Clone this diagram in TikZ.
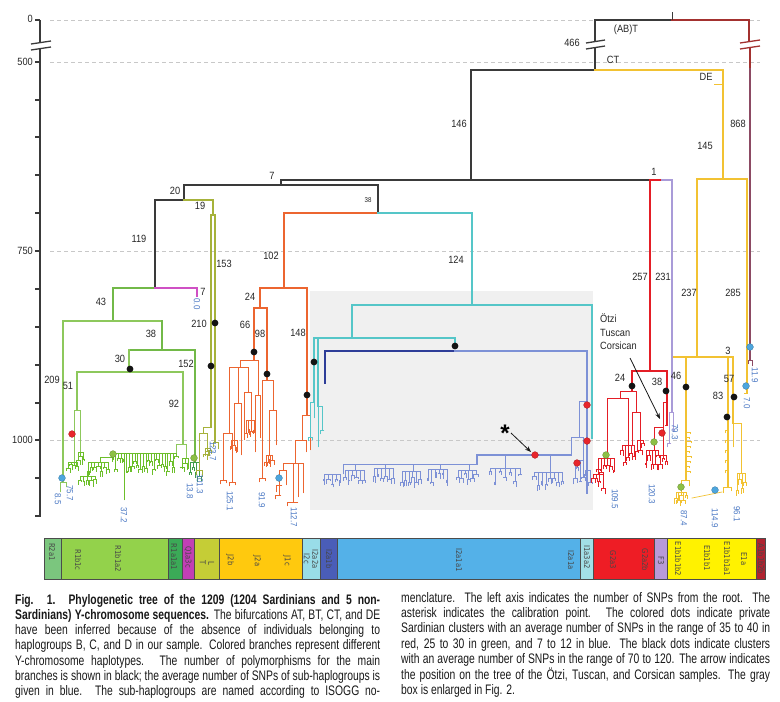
\documentclass[tikz,border=0pt]{standalone}
\usepackage{fontspec}
\setmainfont{Liberation Sans}
\newfontfamily\lblfont[FakeStretch=0.88]{Liberation Sans}
\newfontfamily\capfont[FakeStretch=0.75]{Liberation Sans}
\newfontfamily\barfont[FakeStretch=0.85]{DejaVu Sans}
\usetikzlibrary{arrows.meta}
\definecolor{cK}{HTML}{3A3A3A}
\definecolor{cAr}{HTML}{A3312F}
\definecolor{cAp}{HTML}{8C4A63}
\definecolor{cY}{HTML}{F2C232}
\definecolor{cGl}{HTML}{8DC85C}
\definecolor{cG}{HTML}{72B948}
\definecolor{cGb}{HTML}{6CBF2A}
\definecolor{cGd}{HTML}{3F9E4B}
\definecolor{cM}{HTML}{CF50C4}
\definecolor{cO}{HTML}{A6B23A}
\definecolor{cOr}{HTML}{EC6530}
\definecolor{cC}{HTML}{55C6C8}
\definecolor{cDB}{HTML}{2E3D98}
\definecolor{cLB}{HTML}{7D91D6}
\definecolor{cR}{HTML}{E41E26}
\definecolor{cF}{HTML}{A99BD8}
\definecolor{cBl}{HTML}{4A78C4}
\definecolor{dR}{HTML}{E8252B}
\definecolor{dG}{HTML}{8DC045}
\definecolor{dB}{HTML}{4DA6DE}
\definecolor{gbox}{HTML}{F0F0F0}
\definecolor{gdash}{HTML}{C8C8C8}
\definecolor{bR2}{HTML}{7BC67E}
\definecolor{bR1b}{HTML}{93D24B}
\definecolor{bR1a}{HTML}{3BAA57}
\definecolor{bQ}{HTML}{C23FB5}
\definecolor{bLT}{HTML}{C5CD36}
\definecolor{bJ}{HTML}{FFC90E}
\definecolor{bI2c}{HTML}{99DDE8}
\definecolor{bI2b}{HTML}{4A5DB8}
\definecolor{bI2a}{HTML}{54B1E8}
\definecolor{bI1}{HTML}{A2DFE6}
\definecolor{bG}{HTML}{EE1D25}
\definecolor{bF}{HTML}{B89AD8}
\definecolor{bE}{HTML}{FFF200}
\definecolor{bA}{HTML}{B02330}
\tikzset{
 br/.style={line width=1.2pt, line cap=rect},
 lf/.style={line width=0.7pt, line cap=rect},
 lbl/.style={font=\lblfont\fontsize{10.5}{12}\selectfont, text=black!85, inner sep=0pt},
 blbl/.style={font=\lblfont\fontsize{9}{10}\selectfont, text=cBl, rotate=-90, inner sep=0pt},
 barl/.style={font=\barfont\fontsize{8}{8.6}\selectfont, text=black!72, rotate=-90, inner sep=0pt, align=center},
 seg/.style={draw=black!70, line width=0.5pt},
 dotb/.style={circle, inner sep=0pt, minimum size=6.8pt},
 kdot/.style={dotb, fill=black!92},
 rdot/.style={dotb, fill=dR, draw=dR!70!black, line width=0.3pt},
 gdot/.style={dotb, fill=dG, draw=dG!70!black, line width=0.3pt},
 bdot/.style={dotb, fill=dB, draw=dB!70!black, line width=0.3pt},
 capl/.style={anchor=base west, inner sep=0pt, text=black!90, font=\capfont\fontsize{13.8}{15}\selectfont}
}
\newcommand{\leafbush}[7]{%
  \draw[lf,#1] (#2,#4) -- (#3,#4);
  \foreach \i in {0,...,#5}{%
    \pgfmathsetmacro{\bx}{#2+(#3-#2)*\i/#5}%
    \pgfmathsetmacro{\bl}{#6+rnd*(#7-#6)}%
    \pgfmathsetmacro{\bw}{0.6+rnd*1.6}%
    \pgfmathsetmacro{\ba}{1+rnd*5}%
    \pgfmathsetmacro{\bb}{1+rnd*5}%
    \draw[lf,#1] (\bx,#4) -- (\bx,#4+\bl) (\bx-\bw,#4+\bl) -- (\bx+\bw,#4+\bl) (\bx-\bw,#4+\bl) -- ++(0,\ba) (\bx+\bw,#4+\bl) -- ++(0,\bb);
  }%
}
\begin{document}
\begin{tikzpicture}[x=1pt,y=-1pt]
\useasboundingbox (0,0) rectangle (780,702);
\fill[white] (0,0) rectangle (780,702);
\pgfmathsetseed{11}
% gray box
\fill[gbox] (310,291) rectangle (593,510);
% dashed guide lines
\foreach \yy in {20,62,251,440} \draw[gdash, line width=0.6pt, dash pattern=on 4pt off 3pt] (50,\yy) -- (760,\yy);
% axis
\draw[line width=1.2pt,cK] (40,20) -- (40,42.6);
\draw[line width=1.2pt,cK] (40,48.6) -- (40,517);
\foreach \yy in {20,62,100,137,175,213,251,289,327,365,403,440,478,516} \draw[line width=1.1pt,cK] (35,\yy) -- (40,\yy);
\draw[cK,line width=1.3pt] (31,44) -- (51,41);
\draw[cK,line width=1.3pt] (31,50) -- (51,47);
\node[lbl,anchor=east] (ax0) at (33,19) {0};
\node[lbl,anchor=east] (ax500) at (33,62) {500};
\node[lbl,anchor=east] (ax750) at (33,251) {750};
\node[lbl,anchor=east] (ax1000) at (33,440) {1000};
% root
\draw[br,cK] (595,20) -- (672,20);
\draw[br,cAr] (672,20) -- (749,20);
\draw[cK,line width=1pt] (672,12) -- (672,20);
\draw[line width=1.2pt,cK] (595,20) -- (595,41.6);
\draw[line width=1.2pt,cK] (595,47.6) -- (595,70);
\draw[cK,line width=1.3pt] (586,43) -- (605,40);
\draw[cK,line width=1.3pt] (586,49) -- (605,46);
\draw[line width=1.2pt,cAr] (749,20) -- (749,41.6);
\draw[line width=1.2pt,cAr] (750,47.6) -- (750,68);
\draw[line width=1.2pt,cAp] (750,68) -- (750,360);
\draw[cAr,line width=1.3pt] (740,43) -- (760,40);
\draw[cAr,line width=1.3pt] (740,49) -- (760,46);
\draw[lf,cAp] (748,360) -- (752,360) (748,360) -- (748,364) (752,360) -- (752,366);
% CT / DE
\draw[br,cK] (471,70) -- (595,70);
\draw[br,cY] (595,70) -- (723,70);
\draw[br,cY] (723,70) -- (723,179);
\draw[lf,cY] (714,84) -- (723,84);
\draw[br,cY] (697,179) -- (747,179);
\draw[br,cY] (697,179) -- (697,357);
\draw[br,cY] (747,179) -- (747,393);
\draw[lf,cY] (744,393) -- (747,393);
\draw[br,cK] (471,70) -- (471,180);
\draw[br,cK] (281,180) -- (650,180);
\draw[br,cR] (650,180) -- (662,180);
\draw[br,cF] (662,180) -- (672,180);
\draw[br,cR] (650,180) -- (650,371);
\draw[br,cF] (672,180) -- (672,412);
% left part
\draw[br,cK] (281,180) -- (281,185);
\draw[br,cK] (184,185) -- (378,185);
\draw[br,cK] (378,185) -- (378,213);
\draw[br,cOr] (284,213) -- (378,213);
\draw[br,cC] (378,213) -- (472,213);
\draw[br,cK] (184,185) -- (184,200);
\draw[br,cK] (155,200) -- (184,200);
\draw[br,cO] (184,200) -- (213,200);
\draw[br,cO] (213,200) -- (213,215);
\draw[br,cO] (211,215) -- (215,215);
\draw[br,cO] (211,215) -- (211,427);
\draw[br,cO] (215,215) -- (215,442);
\draw[br,cK] (155,200) -- (155,288);
\draw[br,cG] (113,288) -- (155,288);
\draw[br,cM] (155,288) -- (197,288);
\draw[br,cM] (197,288) -- (197,296);
\draw[br,cG] (113,288) -- (113,321);
\draw[br,cGl] (63,321) -- (162,321);
\draw[br,cGl] (63,321) -- (63,482);
\draw[br,cG] (162,321) -- (162,350);
\draw[br,cG] (129,350) -- (195,350);
\draw[br,cG] (195,350) -- (195,462);
\draw[br,cGl] (129,350) -- (129,372);
\draw[br,cGl] (77,372) -- (183,372);
\draw[br,cGl] (77,372) -- (77,410);
\draw[br,cGl] (183,372) -- (183,444);
% R leaves
\draw[lf,cGl] (60,482) -- (66,482) (60,482) -- (60,492) (66,482) -- (66,487);
\draw[lf,cGl] (74,410) -- (80,410) (74,410) -- (74,462) (80,410) -- (80,452);
\leafbush{cGb}{68}{77}{462}{3}{2}{8}
\leafbush{cGb}{78}{83}{452}{2}{3}{10}
\draw[lf,cGl] (176,444) -- (186,444) (176,444) -- (176,453) (186,444) -- (186,458);
\leafbush{cGb}{113}{176}{453}{23}{3}{20}
\leafbush{cGb}{182}{188}{458}{2}{3}{10}
\draw[lf,cGb] (124,453) -- (124,500);
\draw[lf,cGb] (100,457) -- (113,457) (100,457) -- (100,462);
\leafbush{cGb}{88}{108}{462}{6}{3}{14}
\draw[lf,cGb] (88,462) -- (88,476);
\leafbush{cGb}{80}{95}{476}{4}{2}{6}
\leafbush{cGd}{190}{199}{462}{3}{4}{18}
% olive leaves
\draw[lf,cO] (203,427) -- (211,427) (203,427) -- (203,433) (199,433) -- (207,433) (199,433) -- (199,470) (207,433) -- (207,448) (196,470) -- (202,470) (196,470) -- (196,475) (202,470) -- (202,477);
\leafbush{cO}{205}{210}{448}{2}{2}{7}
\draw[lf,cO] (213,442) -- (218,442) (213,442) -- (213,447) (218,442) -- (218,449);
% orange J
\draw[br,cOr] (284,213) -- (284,288);
\draw[br,cOr] (260,288) -- (307,288);
\draw[br,cOr] (260,288) -- (260,308);
\draw[br,cOr] (254,308) -- (267,308);
\draw[br,cOr] (254,308) -- (254,360);
\draw[br,cOr] (267,308) -- (267,380);
\draw[br,cOr] (307,288) -- (307,415);
\draw[lf,cOr] (240,360) -- (258,360) (240,360) -- (240,367) (229,367) -- (248,367) (229,367) -- (229,433) (223,433) -- (232,433) (223,433) -- (223,480) (232,433) -- (232,482) (220,480) -- (226,480) (220,480) -- (220,484) (226,480) -- (226,483) (229,482) -- (235,482) (229,482) -- (229,486) (235,482) -- (235,485);
\draw[lf,cOr] (238,367) -- (238,403) (234,403) -- (241,403) (234,403) -- (234,440) (241,403) -- (241,455);
\draw[lf,cOr] (248,367) -- (248,392) (244,392) -- (251,392) (244,392) -- (244,440) (251,392) -- (251,420);
\leafbush{cOr}{246}{254}{420}{3}{4}{14}
\draw[lf,cOr] (258,360) -- (258,395) (255,395) -- (260,395) (255,395) -- (255,452) (260,395) -- (260,438);
\draw[lf,cOr] (262,380) -- (273,380) (262,380) -- (262,478) (273,380) -- (273,410) (269,410) -- (276,410) (269,410) -- (269,455) (276,410) -- (276,445);
\leafbush{cOr}{266}{272}{455}{3}{3}{10}
\leafbush{cOr}{231}{237}{440}{2}{3}{12}
\draw[lf,cOr] (259,478) -- (265,478) (259,478) -- (259,482) (265,478) -- (265,481);
\draw[lf,cOr] (302,415) -- (310,415) (310,415) -- (310,450) (302,415) -- (302,440) (295,440) -- (306,440) (306,440) -- (306,452) (295,440) -- (295,463) (283,463) -- (303,463) (293,463) -- (293,502) (298,463) -- (298,497) (303,463) -- (303,493) (287,502) -- (298,502) (287,502) -- (287,506) (283,463) -- (283,470) (279,470) -- (286,470) (279,470) -- (279,495) (286,470) -- (286,485) (276,485) -- (282,485) (276,485) -- (276,492) (275,495) -- (281,495) (275,495) -- (275,499);
% cyan / blue I
\draw[br,cC] (472,213) -- (472,305);
\draw[br,cC] (352,305) -- (592,305);
\draw[br,cC] (592,305) -- (592,438);
\draw[br,cC] (352,305) -- (352,338);
\draw[br,cC] (314,338) -- (455,338);
\draw[br,cC] (455,338) -- (455,345);
\draw[br,cC] (314,338) -- (314,402);
\draw[br,cC] (318,338) -- (318,406);
\draw[lf,cC] (310,402) -- (314,402) (310,402) -- (310,437) (314,402) -- (314,418) (308,437) -- (312,437) (308,437) -- (308,441) (312,437) -- (312,440);
\draw[lf,cC] (318,406) -- (322,406) (318,406) -- (318,447) (322,406) -- (322,430) (320,430) -- (324,430) (320,430) -- (320,434);
\draw[br,cDB] (325,351) -- (455,351);
\draw[br,cDB] (325,351) -- (325,383);
\draw[br,cLB] (455,351) -- (587,351);
\draw[br,cLB] (587,351) -- (587,493);
\draw[lf,cLB] (579,401) -- (587,401) (579,401) -- (579,437) (571,437) -- (583,437) (583,437) -- (583,460) (571,437) -- (571,455);
\leafbush{cLB}{575}{583}{460}{3}{4}{22}
\draw[br,cLB] (477,455) -- (571,455);
\draw[lf,cLB] (550,455) -- (550,472);
\leafbush{cLB}{534}{562}{472}{7}{3}{14}
\draw[lf,cLB] (505,455) -- (505,468);
\leafbush{cLB}{490}{520}{468}{6}{3}{14}
\draw[br,cLB] (477,455) -- (477,464);
\draw[lf,cLB] (343,464) -- (477,464);
\draw[lf,cLB] (469,464) -- (469,470);
\leafbush{cLB}{458}{476}{470}{5}{3}{12}
\draw[lf,cLB] (440,464) -- (440,469);
\leafbush{cLB}{428}{447}{469}{5}{3}{13}
\draw[lf,cLB] (413,464) -- (413,471);
\leafbush{cLB}{402}{420}{471}{5}{3}{12}
\draw[lf,cLB] (385,464) -- (385,468);
\leafbush{cLB}{374}{393}{468}{5}{3}{13}
\draw[lf,cLB] (355,464) -- (355,470);
\leafbush{cLB}{345}{364}{470}{5}{3}{12}
\draw[lf,cLB] (343,464) -- (343,474);
\leafbush{cLB}{324}{340}{474}{4}{3}{10}
\leafbush{cLB}{585}{590}{470}{2}{4}{16}
% red G
\draw[br,cR] (632,371) -- (667,371);
\draw[br,cR] (632,371) -- (632,391);
\draw[br,cR] (667,371) -- (667,425);
\draw[lf,cR] (620,391) -- (636,391) (620,391) -- (620,398) (607,398) -- (628,398) (607,398) -- (607,458) (628,398) -- (628,445) (636,391) -- (636,412) (632,412) -- (640,412) (632,412) -- (632,445) (640,412) -- (640,440);
\leafbush{cR}{598}{614}{458}{5}{3}{20}
\leafbush{cR}{622}{634}{445}{4}{3}{18}
\leafbush{cR}{637}{643}{440}{2}{3}{12}
\draw[lf,cR] (598,458) -- (598,474);
\leafbush{cR}{593}{603}{474}{3}{3}{15}
\draw[lf,cR] (663,402) -- (667,402) (663,402) -- (663,455) (654,427) -- (663,427) (654,427) -- (654,450) (665,425) -- (668,425);
\leafbush{cR}{646}{658}{450}{4}{3}{18}
\leafbush{cR}{660}{666}{455}{2}{3}{12}
% purple F
\draw[lf,cF] (669,412) -- (673,412) (669,412) -- (669,443) (673,412) -- (673,432) (667,443) -- (671,443) (667,443) -- (667,447);
% yellow E
\draw[br,cY] (674,357) -- (733,357);
\draw[br,cY] (686,357) -- (686,480);
\foreach \yy/\ll in {432/4,437/3,441/5,446/4,451/3,456/5,461/4,466/3,471/4} \draw[lf,cY] (686,\yy) -- (686+\ll,\yy) -- ++(0,2);
\draw[lf,cY] (681,480) -- (689,480) (681,480) -- (681,492) (689,480) -- (689,486);
\leafbush{cY}{676}{686}{492}{4}{2}{10}
\draw[lf,cY] (692,498) -- (722,492);
\draw[br,cY] (728,357) -- (728,487);
\foreach \yy in {430,440,450,460,470} \draw[lf,cY] (728,\yy) -- (725,\yy) -- ++(0,3);
\draw[lf,cY] (723,487) -- (731,487) (723,487) -- (723,493) (731,487) -- (731,491);
\draw[br,cY] (733,357) -- (733,423);
\draw[lf,cY] (733,423) -- (741,423) (741,423) -- (741,473) (733,423) -- (733,447);
\leafbush{cY}{737}{745}{473}{3}{3}{18}
% dots
\node[kdot] (k1) at (130,369) {};
\node[kdot] (k2) at (215,323) {};
\node[kdot] (k3) at (211,366) {};
\node[kdot] (k4) at (254,352) {};
\node[kdot] (k5) at (267,374) {};
\node[kdot] (k6) at (307,395) {};
\node[kdot] (k7) at (314,362) {};
\node[kdot] (k8) at (455,346) {};
\node[kdot] (k9) at (632,386) {};
\node[kdot] (k10) at (666,391) {};
\node[kdot] (k11) at (686,387) {};
\node[kdot] (k12) at (734,397) {};
\node[kdot] (k13) at (727,417) {};
\node[rdot] (r1) at (72,434) {};
\node[rdot] (r2) at (587,405) {};
\node[rdot] (r3) at (587,441) {};
\node[rdot] (r4) at (577,463) {};
\node[rdot] (r5) at (535,455) {};
\node[rdot] (r6) at (662,433) {};
\node[gdot] (g1) at (113,454) {};
\node[gdot] (g2) at (194,458) {};
\node[gdot] (g3) at (606,455) {};
\node[gdot] (g4) at (654,442) {};
\node[gdot] (g5) at (681,487) {};
\node[bdot] (b1) at (62,478) {};
\node[bdot] (b2) at (279,478) {};
\node[bdot] (b3) at (715,490) {};
\node[bdot] (b4) at (750,347) {};
\node[bdot] (b5) at (746,386) {};
% black labels
\node[lbl] (nAB) at (626,30) {(AB)T};
\node[lbl] (n466) at (572,43) {466};
\node[lbl] (nCT) at (613,60) {CT};
\node[lbl] (nDE) at (706,77) {DE};
\node[lbl] (n145) at (705,146) {145};
\node[lbl] (n868) at (738,124) {868};
\node[lbl] (n146) at (459,124) {146};
\node[lbl] (n1) at (654,172) {1};
\node[lbl] (n7) at (272,176) {7};
\node[lbl] (n20) at (175,191) {20};
\node[lbl] (n19) at (200,206) {19};
\node[lbl,font=\lblfont\fontsize{7}{8}\selectfont] (n38a) at (368,200) {38};
\node[lbl] (n119) at (139,239) {119};
\node[lbl] (n124) at (456,260) {124};
\node[lbl] (n102) at (271,256) {102};
\node[lbl] (n153) at (224,264) {153};
\node[lbl] (n257) at (640,277) {257};
\node[lbl] (n231) at (663,277) {231};
\node[lbl] (n237) at (689,293) {237};
\node[lbl] (n285) at (733,293) {285};
\node[lbl] (n7b) at (203,292) {7};
\node[lbl] (n43) at (101,302) {43};
\node[lbl] (n38b) at (151,334) {38};
\node[lbl] (n210) at (199,324) {210};
\node[lbl] (n24a) at (250,297) {24};
\node[lbl] (n66) at (245,325) {66};
\node[lbl] (n98) at (260,334) {98};
\node[lbl] (n148) at (298,333) {148};
\node[lbl] (n30) at (120,359) {30};
\node[lbl] (n152) at (186,364) {152};
\node[lbl] (n209) at (52,380) {209};
\node[lbl] (n51) at (68,386) {51};
\node[lbl] (n92) at (174,404) {92};
\node[lbl] (n24b) at (620,378) {24};
\node[lbl] (n38c) at (657,382) {38};
\node[lbl] (n46) at (676,376) {46};
\node[lbl] (n3) at (728,351) {3};
\node[lbl] (n57) at (729,379) {57};
\node[lbl] (n83) at (718,396) {83};
% blue labels
\node[blbl] (v00) at (197,304) {0.0};
\node[blbl] (v85) at (58,499) {8.5};
\node[blbl] (v757) at (70,493) {75.7};
\node[blbl] (v372) at (124,515) {37.2};
\node[blbl] (v138) at (190,491) {13.8};
\node[blbl] (v1013) at (200,484) {101.3};
\node[blbl] (v1237) at (213,451) {123.7};
\node[blbl] (v1251) at (230,501) {125.1};
\node[blbl] (v919) at (262,500) {91.9};
\node[blbl] (v1127) at (294,517) {112.7};
\node[blbl] (v1095) at (615,499) {109.5};
\node[blbl] (v1203) at (652,494) {120.3};
\node[blbl] (v793) at (675,432) {79.3};
\node[blbl] (v874) at (684,518) {87.4};
\node[blbl] (v1149) at (715,518) {114.9};
\node[blbl] (v961) at (737,514) {96.1};
\node[blbl] (v70) at (747,403) {7.0};
\node[blbl] (v119) at (755,375) {11.9};
% Otzi
\node[lbl,align=left,anchor=north west,font=\lblfont\fontsize{10.5}{13.5}\selectfont] (otzi) at (600,314) {Ötzi\\Tuscan\\Corsican};
\coordinate (otziA) at (630,358);
\coordinate (otziB) at (660,419);
\draw[-{Stealth[length=6pt,width=4.5pt]}, line width=0.8pt, black!90] (otziA) -- (otziB);
% asterisk
\node[anchor=base, inner sep=0pt, font=\bfseries\fontsize{24}{24}\selectfont] (ast) at (505,441) {*};
\coordinate (astA) at (511,433);
\coordinate (astB) at (531,452);
\draw[-{Stealth[length=6pt,width=4.5pt]}, line width=0.8pt, black!90] (astA) -- (astB);
% haplogroup bar
\path[seg,fill=bR2] (44,538) rectangle (61,579);
\path[seg,fill=bR1b] (61,538) rectangle (168,579);
\path[seg,fill=bR1a] (168,538) rectangle (182,579);
\path[seg,fill=bQ] (182,538) rectangle (194,579);
\path[seg,fill=bLT] (194,538) rectangle (219,579);
\path[seg,fill=bJ] (219,538) rectangle (302,579);
\path[seg,fill=bI2c] (302,538) rectangle (320,579);
\path[seg,fill=bI2b] (320,538) rectangle (337,579);
\path[seg,fill=bI2a] (337,538) rectangle (580,579);
\path[seg,fill=bI1] (580,538) rectangle (593,579);
\path[seg,fill=bG] (593,538) rectangle (654,579);
\path[seg,fill=bF] (654,538) rectangle (667,579);
\path[seg,fill=bE] (667,538) rectangle (756,579);
\path[seg,fill=bA] (756,538) rectangle (765,579);
\node[barl] (hR2a1) at (52,552) {R2a1};
\node[barl] (hR1b1c) at (78,560) {R1b1c};
\node[barl] (hR1b1a2) at (118,559) {R1b1a2};
\node[barl] (hR1a1a1) at (174,557) {R1a1a1};
\node[barl] (hQ1a3c) at (188,557) {Q1a3c};
\node[barl] (hLT) at (207,563) {L\\T};
\node[barl] (hJ2b) at (230,560) {J2b};
\node[barl] (hJ2a) at (257,561) {J2a};
\node[barl] (hJ1c) at (287,561) {J1c};
\node[barl] (hI2a2a) at (311,559) {I2a2a\\I2c};
\node[barl] (hI2a1b) at (329,559) {I2a1b};
\node[barl] (hI2a1a1) at (459,560) {I2a1a1};
\node[barl] (hI2a1a) at (571,560) {I2a1a};
\node[barl] (hI1a3a2) at (587,557) {I1a3a2};
\node[barl] (hG2a3) at (613,560) {G2a3};
\node[barl] (hG2a2b) at (645,560) {G2a2b};
\node[barl] (hF3) at (661,561) {F3};
\node[barl] (hE1) at (678,559) {E1b1b1b2};
\node[barl] (hE2) at (707,558) {E1b1b1};
\node[barl] (hE3) at (727,559) {E1b1b1a1};
\node[barl] (hE4) at (744,559) {E1a};
\node[barl] (hA) at (761,559) {A1b1b2b};
% caption
\node[capl] (cl1) at (15,604) {\makebox[365pt][s]{\textbf{Fig. 1. Phylogenetic tree of the 1209 (1204 Sardinians and 5 non-}}};
\node[capl] (cl2) at (15,619.3) {\makebox[365pt][s]{\textbf{Sardinians) Y-chromosome sequences.} The bifurcations AT, BT, CT, and DE}};
\node[capl] (cl3) at (15,634.6) {\makebox[365pt][s]{have been inferred because of the absence of individuals belonging to}};
\node[capl] (cl4) at (15,649.9) {\makebox[365pt][s]{haplogroups B, C, and D in our sample. Colored branches represent different}};
\node[capl] (cl5) at (15,665.2) {\makebox[365pt][s]{Y-chromosome haplotypes. The number of polymorphisms for the main}};
\node[capl] (cl6) at (15,680.5) {\makebox[365pt][s]{branches is shown in black; the average number of SNPs of sub-haplogroups is}};
\node[capl] (cl7) at (15,695.8) {\makebox[365pt][s]{given in blue. The sub-haplogroups are named according to ISOGG no-}};
\node[capl] (cr1) at (401,602) {\makebox[369pt][s]{menclature. The left axis indicates the number of SNPs from the root. The}};
\node[capl] (cr2) at (401,617.4) {\makebox[369pt][s]{asterisk indicates the calibration point. The colored dots indicate private}};
\node[capl] (cr3) at (401,632.8) {\makebox[369pt][s]{Sardinian clusters with an average number of SNPs in the range of 35 to 40 in}};
\node[capl] (cr4) at (401,648.2) {\makebox[369pt][s]{red, 25 to 30 in green, and 7 to 12 in blue. The black dots indicate clusters}};
\node[capl] (cr5) at (401,663.6) {\makebox[369pt][s]{with an average number of SNPs in the range of 70 to 120. The arrow indicates}};
\node[capl] (cr6) at (401,679) {\makebox[369pt][s]{the position on the tree of the Ötzi, Tuscan, and Corsican samples. The gray}};
\node[capl] (cr7) at (401,694.4) {box is enlarged in Fig. 2.};
\end{tikzpicture}
\end{document}
